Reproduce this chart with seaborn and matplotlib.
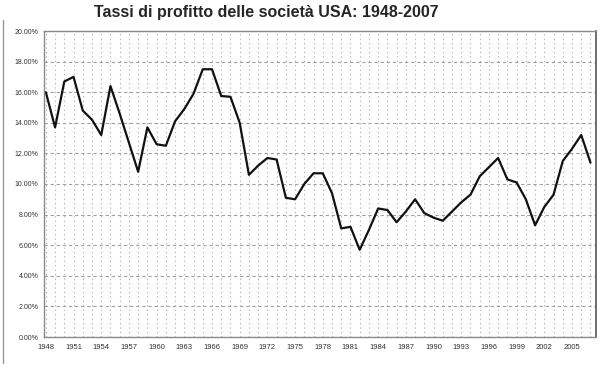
import numpy as np
import pandas as pd
import matplotlib
matplotlib.use("Agg")
import matplotlib.pyplot as plt
import seaborn as sns
from matplotlib.ticker import FuncFormatter, MultipleLocator

# Profit rates of US corporations, percent
years = list(range(1948, 2008))
rates = [
    16.0, 13.7, 16.7, 17.0, 14.8, 14.2, 13.2, 16.4, 14.6, 12.7,
    10.8, 13.7, 12.6, 12.5, 14.1, 14.9, 15.9, 17.5, 17.5, 15.75,
    15.7, 14.0, 10.6, 11.2, 11.7, 11.6, 9.1, 9.0, 10.0, 10.7,
    10.7, 9.4, 7.1, 7.2, 5.7, 7.0, 8.4, 8.3, 7.5, 8.2,
    9.0, 8.1, 7.8, 7.6, 8.2, 8.8, 9.3, 10.5, 11.1, 11.7,
    10.3, 10.1, 9.0, 7.3, 8.5, 9.3, 11.5, 12.3, 13.2, 11.4,
]
xtick_years = list(range(1948, 2007, 3))
title = "Tassi di profitto delle società USA: 1948-2007"

df = pd.DataFrame({"anno": years, "tasso": rates})

sns.set_style("white")
plt.rcParams["font.family"] = ["Liberation Sans", "DejaVu Sans"]

fig = plt.figure(figsize=(6, 3.7), dpi=100)
ax = fig.add_axes([44 / 600, 1 - 337 / 370, 552 / 600, 306 / 370])

# grid: dotted verticals every year, dashed horizontals every 2%
ax.set_xticks(years, minor=True)
ax.grid(True, which="minor", axis="x", color="#a8a8a8", linestyle=(0, (1, 3)), linewidth=0.8)
ax.yaxis.set_major_locator(MultipleLocator(2))
ax.grid(True, which="major", axis="y", color="#a0a0a0", linestyle=(0, (3, 2.5)), linewidth=0.8)
ax.grid(True, which="major", axis="x", color="#a8a8a8", linestyle=(0, (1, 3)), linewidth=0.8)
ax.set_axisbelow(True)

sns.lineplot(data=df, x="anno", y="tasso", ax=ax, color="#111111", linewidth=1.6)

ax.set_xlim(1947.8, 2007.6)
ax.set_ylim(0, 20)
ax.set_xticks(xtick_years)
ax.yaxis.set_major_formatter(FuncFormatter(lambda v, p: f"{v:.2f}%"))
ax.tick_params(axis="both", labelsize=5.5, colors="#333333", length=2, width=0.6, pad=3)
ax.tick_params(axis="x", which="minor", length=2, width=0.6, color="#888888")
ax.tick_params(axis="y", pad=2, labelsize=5)
ax.set_xlabel("")
ax.set_ylabel("")

for side in ["left", "bottom", "top"]:
    ax.spines[side].set_color("#8a8a8a")
    ax.spines[side].set_linewidth(1.0)
ax.spines["right"].set_color("#555555")
ax.spines["right"].set_linewidth(1.2)

fig.text(266 / 600, 1 - 12 / 370, title, ha="center", va="center",
         fontsize=11.5, fontweight="bold")

# thin frame line on the left edge of the picture
fig.add_artist(plt.Line2D([3 / 600, 3 / 600], [1 - 363 / 370, 1 - 20 / 370],
                          transform=fig.transFigure, color="#999999", linewidth=1.0))

fig.savefig("out.png", dpi=100)
